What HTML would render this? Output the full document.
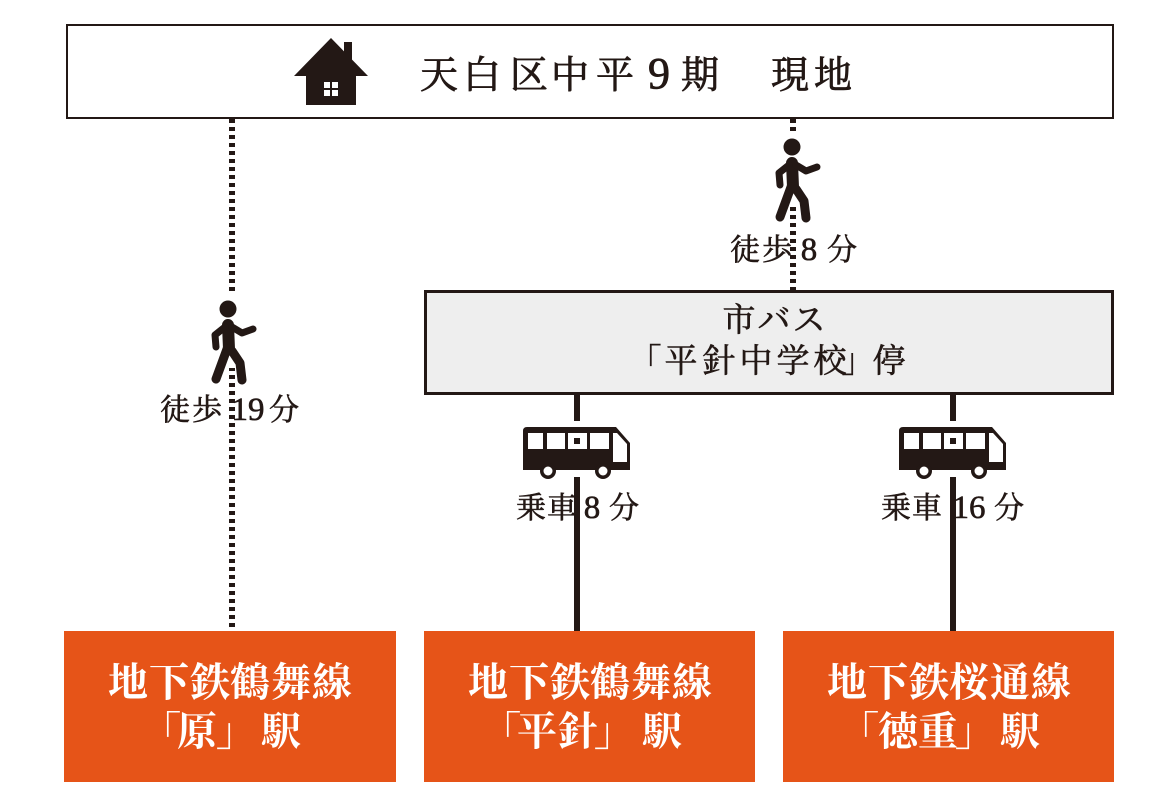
<!DOCTYPE html>
<html><head><meta charset="utf-8"><style>
html,body{margin:0;padding:0;background:#fff;}
svg{display:block;}
text{font-family:"Liberation Serif","Noto Serif CJK SC",serif;}
</style></head><body>
<svg width="1171" height="800" viewBox="0 0 1171 800" xmlns="http://www.w3.org/2000/svg">
<rect width="1171" height="800" fill="#fff"/>

<!-- connectors -->
<line x1="232" y1="119" x2="232" y2="631" stroke="#231815" stroke-width="6" stroke-dasharray="4 4"/>
<line x1="793" y1="119" x2="793" y2="291" stroke="#231815" stroke-width="6" stroke-dasharray="4 4"/>
<line x1="577" y1="394" x2="577" y2="631" stroke="#231815" stroke-width="6"/>
<line x1="953" y1="394" x2="953" y2="631" stroke="#231815" stroke-width="6"/>

<!-- knockouts -->
<rect x="225" y="294" width="14" height="74" fill="#fff"/>
<rect x="786" y="132" width="14" height="74" fill="#fff"/>
<rect x="519" y="421" width="116" height="56" fill="#fff"/>
<rect x="895" y="421" width="116" height="56" fill="#fff"/>

<!-- top box -->
<rect x="67" y="25" width="1046" height="93" fill="#fff" stroke="#231815" stroke-width="2"/>
<!-- house icon -->
<g fill="#231815">
  <rect x="344" y="42" width="8" height="22"/>
  <polygon points="331,38 294,76 368,76"/>
  <rect x="306" y="68" width="50" height="37"/>
</g>
<g fill="#fff">
  <rect x="324" y="82" width="6" height="6"/>
  <rect x="332" y="82" width="6" height="6"/>
  <rect x="324" y="90" width="6" height="6"/>
  <rect x="332" y="90" width="6" height="6"/>
</g>
<g fill="#231815" stroke="#231815" stroke-width="0.8">
  <text x="439 482 529 570 615" y="88" font-size="38" text-anchor="middle">天白区中平</text>
  <text x="659" y="88" font-size="44" text-anchor="middle">9</text>
  <text x="700" y="88" font-size="38" text-anchor="middle">期</text>
  <text x="790 833" y="88" font-size="38" text-anchor="middle">現地</text>
</g>

<!-- walkers -->
<g transform="translate(228,309)">
  <circle cx="0" cy="0" r="8.5" fill="#231815"/>
  <g stroke="#231815" fill="none" stroke-linecap="round" stroke-linejoin="round">
    <line x1="0" y1="16" x2="1" y2="40" stroke-width="12"/>
    <polyline points="-3,18 -13,26 -12,38" stroke-width="7"/>
    <polyline points="4,18 14,24 25,20" stroke-width="7"/>
    <line x1="-1" y1="40" x2="-12" y2="70" stroke-width="9"/>
    <polyline points="4,42 12,54 14,71" stroke-width="9"/>
  </g>
</g>
<g transform="translate(792,147)">
  <circle cx="0" cy="0" r="8.5" fill="#231815"/>
  <g stroke="#231815" fill="none" stroke-linecap="round" stroke-linejoin="round">
    <line x1="0" y1="16" x2="1" y2="40" stroke-width="12"/>
    <polyline points="-3,18 -13,26 -12,38" stroke-width="7"/>
    <polyline points="4,18 14,24 25,20" stroke-width="7"/>
    <line x1="-1" y1="40" x2="-12" y2="70" stroke-width="9"/>
    <polyline points="4,42 12,54 14,71" stroke-width="9"/>
  </g>
</g>

<!-- walk labels -->
<g fill="#231815" stroke="#231815" stroke-width="0.6">
  <text x="175 207" y="420" font-size="30" text-anchor="middle">徒歩</text>
  <text x="248" y="420" font-size="33" text-anchor="middle">19</text>
  <text x="284" y="420" font-size="30" text-anchor="middle">分</text>

  <text x="745 777" y="260" font-size="30" text-anchor="middle">徒歩</text>
  <text x="809" y="260" font-size="33" text-anchor="middle">8</text>
  <text x="842" y="260" font-size="30" text-anchor="middle">分</text>
</g>

<!-- bus stop box -->
<rect x="425.5" y="291.5" width="687" height="102" fill="#eeeeee" stroke="#231815" stroke-width="3"/>
<g fill="#231815" stroke="#231815" stroke-width="0.6">
  <text x="739 774 809" y="331" font-size="33" text-anchor="middle">市バス</text>
  <text x="645 681 719 756 793 830 858 889" y="372" font-size="33" text-anchor="middle">「平針中学校」停</text>
</g>

<!-- buses -->
<g>
  <path d="M523,431 Q523,427 527,427 L616,427 L630,443 L630,470 L523,470 Z" fill="#231815"/>
  <g fill="#fff">
    <rect x="528" y="433" width="15" height="16"/>
    <rect x="547" y="433" width="18" height="16"/>
    <rect x="568" y="433" width="19" height="16"/>
    <rect x="590" y="433" width="19" height="16"/>
    <polygon points="613,433 617,433 627,444 627,462 613,462"/>
  </g>
  <rect x="574" y="438" width="6" height="6" fill="#231815"/>
  <circle cx="548" cy="471" r="8" fill="#231815"/>
  <circle cx="548" cy="471" r="4.5" fill="#fff"/>
  <circle cx="603" cy="471" r="8" fill="#231815"/>
  <circle cx="603" cy="471" r="4.5" fill="#fff"/>
</g>
<g transform="translate(376,0)">
  <path d="M523,431 Q523,427 527,427 L616,427 L630,443 L630,470 L523,470 Z" fill="#231815"/>
  <g fill="#fff">
    <rect x="528" y="433" width="15" height="16"/>
    <rect x="547" y="433" width="18" height="16"/>
    <rect x="568" y="433" width="19" height="16"/>
    <rect x="590" y="433" width="19" height="16"/>
    <polygon points="613,433 617,433 627,444 627,462 613,462"/>
  </g>
  <rect x="574" y="438" width="6" height="6" fill="#231815"/>
  <circle cx="548" cy="471" r="8" fill="#231815"/>
  <circle cx="548" cy="471" r="4.5" fill="#fff"/>
  <circle cx="603" cy="471" r="8" fill="#231815"/>
  <circle cx="603" cy="471" r="4.5" fill="#fff"/>
</g>

<!-- bus labels -->
<g fill="#231815" stroke="#231815" stroke-width="0.6">
  <text x="531 562" y="518" font-size="30" text-anchor="middle">乗車</text>
  <text x="592" y="518" font-size="33" text-anchor="middle">8</text>
  <text x="624" y="518" font-size="30" text-anchor="middle">分</text>

  <text x="896 927" y="518" font-size="30" text-anchor="middle">乗車</text>
  <text x="969" y="518" font-size="33" text-anchor="middle">16</text>
  <text x="1009" y="518" font-size="30" text-anchor="middle">分</text>
</g>

<!-- station boxes -->
<rect x="64" y="631" width="332" height="151" fill="#E65418"/>
<rect x="424" y="631" width="331" height="151" fill="#E65418"/>
<rect x="783" y="631" width="331" height="151" fill="#E65418"/>
<g fill="#fff" font-weight="bold" font-size="40" text-anchor="middle">
  <text x="128 169 210 250 291 332" y="696">地下鉄鶴舞線</text>
  <text x="161 197 236 281" y="745">「原」駅</text>

  <text x="488 529 570 610 651 692" y="696">地下鉄鶴舞線</text>
  <text x="501 537 578 614 662" y="745">「平針」駅</text>

  <text x="847 888 929 969 1010 1051" y="696">地下鉄桜通線</text>
  <text x="859 898 938 975 1020" y="745">「徳重」駅</text>
</g>
</svg>
</body></html>
